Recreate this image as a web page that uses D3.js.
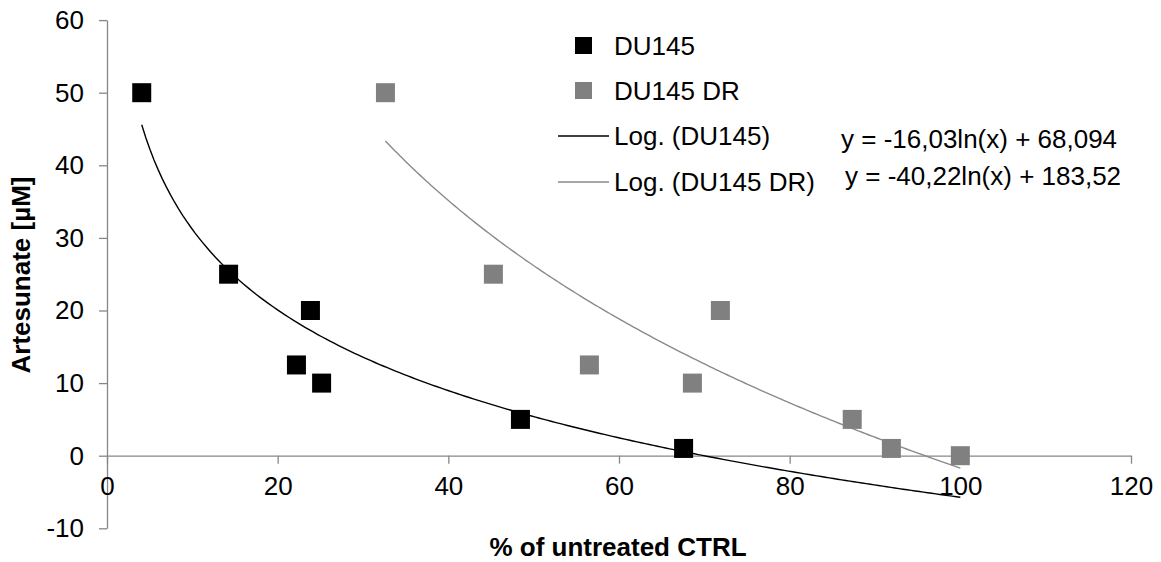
<!DOCTYPE html>
<html>
<head>
<meta charset="utf-8">
<script src="https://cdn.jsdelivr.net/npm/d3@7"></script>
<style>
  html, body { margin: 0; padding: 0; background: #fff; }
  text { font-family: "Liberation Sans", Arial, sans-serif; }
</style>
</head>
<body>
<svg id="chart" width="1161" height="562"></svg>
<script>
// ---- data ----
const du145X = [4.07, 14.25, 23.84, 22.2, 25.15, 48.45, 67.57];
const du145Y = [50, 25, 20, 12.5, 10, 5, 1];
const du145drX = [32.63, 45.28, 56.53, 71.88, 68.6, 87.33, 91.92, 100.0];
const du145drY = [50, 25, 12.5, 20, 10, 5, 1, 0];
// logarithmic trendlines shown on the chart: y = a*ln(x) + b
const trendA = [-16.03, -40.22];
const trendB = [68.094, 183.52];
const trendEnd = [100, 100];
const equationLabels = ["y = -16,03ln(x) + 68,094", "y = -40,22ln(x) + 183,52"];
const seriesNames = ["DU145", "DU145 DR"];
const trendNames = ["Log. (DU145)", "Log. (DU145 DR)"];
const xTicks = [0, 20, 40, 60, 80, 100, 120];
const yTicks = [-10, 0, 10, 20, 30, 40, 50, 60];
const xTitle = "% of untreated CTRL";
const yTitle = "Artesunate [µM]";

const colors = ["#000000", "#808080"];
const lineColors = ["#000000", "#8a8a8a"];
const axisColor = "#878787";
const FS = 26;

const svg = d3.select("#chart");
const x = d3.scaleLinear().domain([0, 120]).range([107, 1131]);
const y = d3.scaleLinear().domain([-10, 60]).range([528.3, 20.1]);

// y axis
const yAxis = svg.append("g").attr("transform", `translate(${x(0)},0)`)
  .call(d3.axisLeft(y).tickValues(yTicks).tickSizeInner(8).tickSizeOuter(0).tickPadding(15).tickFormat(d => String(d)));
// x axis at y=0
const xAxis = svg.append("g").attr("transform", `translate(0,${y(0)})`)
  .call(d3.axisBottom(x).tickValues(xTicks).tickSizeInner(8).tickSizeOuter(0).tickPadding(13).tickFormat(d => String(d)));

[yAxis, xAxis].forEach(g => {
  g.select(".domain").attr("stroke", axisColor).attr("stroke-width", 1.3);
  g.selectAll(".tick line").attr("stroke", axisColor).attr("stroke-width", 1.3);
  g.selectAll(".tick text").attr("fill", "#000").style("font-size", FS + "px")
    .style("font-family", '"Liberation Sans", Arial, sans-serif');
});

// trendlines
const series = [
  { xs: du145X, ys: du145Y },
  { xs: du145drX, ys: du145drY }
];
const line = d3.line().x(d => x(d[0])).y(d => y(d[1]));
series.forEach((s, i) => {
  const x0 = d3.min(s.xs), x1 = trendEnd[i];
  const pts = d3.range(0, 201).map(k => {
    const xv = x0 + (x1 - x0) * k / 200;
    return [xv, trendA[i] * Math.log(xv) + trendB[i]];
  });
  svg.append("path").datum(pts).attr("d", line)
    .attr("fill", "none").attr("stroke", lineColors[i]).attr("stroke-width", 1.4);
});

// markers
const MS = 19;
series.forEach((s, i) => {
  svg.append("g").selectAll("rect").data(s.xs.map((xv, k) => [xv, s.ys[k]]))
    .join("rect")
    .attr("x", d => x(d[0]) - MS / 2).attr("y", d => y(d[1]) - MS / 2)
    .attr("width", MS).attr("height", MS).attr("fill", colors[i]);
});

// legend
const lg = svg.append("g");
const rowY = [45.5, 90.5, 136, 182];
seriesNames.forEach((n, i) => {
  lg.append("rect").attr("x", 575).attr("y", rowY[i] - 8.5).attr("width", 17).attr("height", 17).attr("fill", colors[i]);
  lg.append("text").attr("x", 614).attr("y", rowY[i] + 9).style("font-size", FS + "px").text(n);
});
trendNames.forEach((n, i) => {
  const ry = rowY[i + 2];
  lg.append("line").attr("x1", 558).attr("x2", 609).attr("y1", ry).attr("y2", ry)
    .attr("stroke", lineColors[i]).attr("stroke-width", 1.4);
  lg.append("text").attr("x", 614).attr("y", ry + 9).style("font-size", FS + "px").text(n);
});

// equations
const eqPos = [[841, 147.5], [845, 185]];
equationLabels.forEach((t, i) => {
  svg.append("text").attr("x", eqPos[i][0]).attr("y", eqPos[i][1]).style("font-size", FS + "px").text(t);
});

// axis titles
svg.append("text").attr("x", 618).attr("y", 556)
  .attr("text-anchor", "middle").style("font-size", "26px").style("font-weight", "bold")
  .text(xTitle);
svg.append("text").attr("transform", "translate(30,275) rotate(-90)")
  .attr("text-anchor", "middle").style("font-size", "26px").style("font-weight", "bold")
  .text(yTitle);
</script>
</body>
</html>
